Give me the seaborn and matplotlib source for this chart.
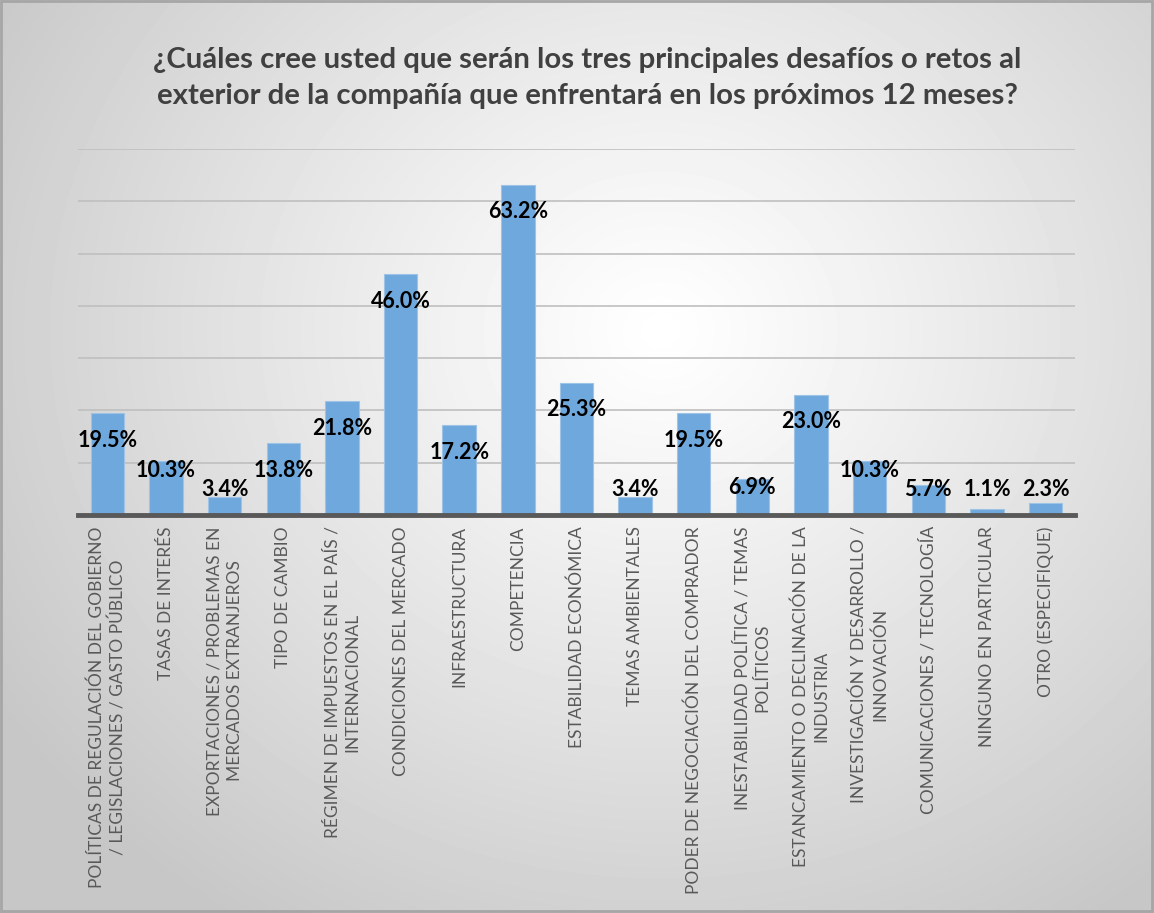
import numpy as np
import pandas as pd
import matplotlib
matplotlib.use("Agg")
import matplotlib.pyplot as plt
import seaborn as sns

titulo = "¿Cuáles cree usted que serán los tres principales desafíos o retos al\nexterior de la compañía que enfrentará en los próximos 12 meses?"

categorias = [
    "POLÍTICAS DE REGULACIÓN DEL GOBIERNO\n/ LEGISLACIONES / GASTO PÚBLICO",
    "TASAS DE INTERÉS",
    "EXPORTACIONES / PROBLEMAS EN\nMERCADOS EXTRANJEROS",
    "TIPO DE CAMBIO",
    "RÉGIMEN DE IMPUESTOS EN EL PAÍS /\nINTERNACIONAL",
    "CONDICIONES DEL MERCADO",
    "INFRAESTRUCTURA",
    "COMPETENCIA",
    "ESTABILIDAD ECONÓMICA",
    "TEMAS AMBIENTALES",
    "PODER DE NEGOCIACIÓN DEL COMPRADOR",
    "INESTABILIDAD POLÍTICA / TEMAS\nPOLÍTICOS",
    "ESTANCAMIENTO O DECLINACIÓN DE LA\nINDUSTRIA",
    "INVESTIGACIÓN Y DESARROLLO /\nINNOVACIÓN",
    "COMUNICACIONES / TECNOLOGÍA",
    "NINGUNO EN PARTICULAR",
    "OTRO (ESPECIFIQUE)",
]
porcentajes = [19.5, 10.3, 3.4, 13.8, 21.8, 46.0, 17.2, 63.2, 25.3, 3.4,
               19.5, 6.9, 23.0, 10.3, 5.7, 1.1, 2.3]

df = pd.DataFrame({"cat": categorias, "pct": porcentajes})

sns.set_theme(style="white")
plt.rcParams["font.family"] = ["Lato", "DejaVu Sans"]

fig = plt.figure(figsize=(11.54, 9.13), dpi=100)

# fondo con degradado radial
bg = fig.add_axes([0, 0, 1, 1], zorder=-10)
yy, xx = np.mgrid[0:913, 0:1154]
d = np.sqrt(((xx - 660) / 780.0) ** 2 + ((yy - 330) / 700.0) ** 2)
grad = 1.0 - 0.22 * np.clip(d, 0, 1) ** 1.1
bg.imshow(grad, cmap="gray", vmin=0, vmax=1, aspect="auto", extent=[0, 1154, 913, 0])
bg.set_axis_off()
bg.add_patch(plt.Rectangle((1, 1), 1151, 910, fill=False, edgecolor="#a6a6a6", lw=2))

ax = fig.add_axes([0.0676, 0.4359, 0.8639, 0.4009])
ax.patch.set_alpha(0)
sns.barplot(data=df, x="cat", y="pct", color="#6fa8dc", saturation=1, width=0.57,
            edgecolor="#9dc3e6", linewidth=0.8, ax=ax, zorder=3)
ax.set_ylim(0, 70)
ax.set_xlim(-0.5, len(categorias) - 0.5)
ax.set_yticks(np.arange(10, 71, 10))
ax.set_yticklabels([])
ax.tick_params(axis="y", length=0)
ax.grid(axis="y", color="#bfbfbf", lw=1.2, zorder=0)
ax.set_axisbelow(True)
for s in ["top", "right", "left"]:
    ax.spines[s].set_visible(False)
ax.spines["bottom"].set_color("#595959")
ax.spines["bottom"].set_linewidth(3.5)
ax.spines["bottom"].set_zorder(5)
ax.set_xlabel("")
ax.set_ylabel("")
ax.tick_params(axis="x", length=0, pad=8)
ax.set_xticks(range(len(categorias)))
ax.set_xticklabels(categorias, rotation=90, ha="center", va="top",
                   multialignment="center", fontsize=12.5, color="#595959",
                   linespacing=1.3)

# etiquetas de datos
for i, v in enumerate(porcentajes):
    y = v - 5.2 if v >= 12 else max(v - 1.7, 4.8)
    ax.text(i, y, f"{v:.1f}%", ha="center", va="center", fontsize=15.5,
            fontweight="bold", color="black", zorder=6)

fig.text(0.509, 0.9146, titulo, ha="center", va="center", fontsize=21.2,
         fontweight="bold", color="#404040", linespacing=1.5)

fig.savefig("out.png", dpi=100)
